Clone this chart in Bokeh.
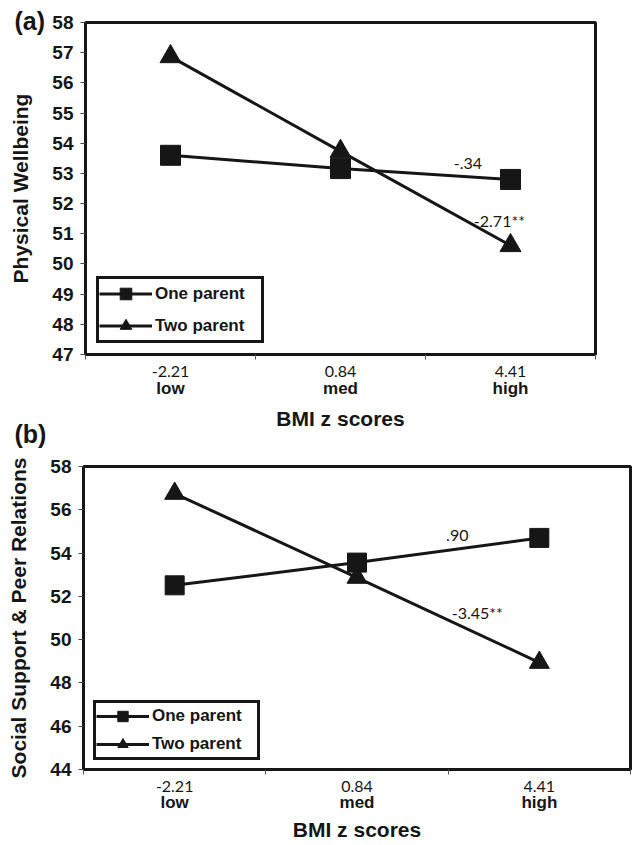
from bokeh.plotting import figure
from bokeh.models import (Range1d, FixedTicker, LinearAxis, Legend, LegendItem, Title,
                          ColumnDataSource)
from bokeh.embed import file_html
from bokeh.resources import INLINE
from bokeh.core.properties import value

# ---------------- data ----------------
categories = ["low", "med", "high"]
bmi_z = ["-2.21", "0.84", "4.41"]
series_names = ["One parent", "Two parent"]
x_label = "BMI z scores"
panel_tags = ["(a)", "(b)"]

a_one = [53.60, 53.16, 52.80]
a_two = [56.87, 53.73, 50.61]
a_ylabel = "Physical Wellbeing"
a_ticks = [47, 48, 49, 50, 51, 52, 53, 54, 55, 56, 57, 58]
a_annot_text = ["-.34", "-2.71**"]
a_annot_x = [2.25, 2.435]
a_annot_y = [53.33, 51.44]

b_one = [52.51, 53.56, 54.70]
b_two = [56.75, 52.87, 48.94]
b_ylabel = "Social Support & Peer Relations"
b_ticks = [44, 46, 48, 50, 52, 54, 56, 58]
b_annot_text = [".90", "-3.45**"]
b_annot_x = [2.05, 2.16]
b_annot_y = [54.80, 51.25]

INK = "#161616"
BOLD_FONT = "Liberation Sans"
NUM_FONT = "Lato"


def make_panel(one, two, ylabel, ticks, ann_t, ann_x, ann_y, *,
               width, height, b_left, b_right, b_top, b_bottom,
               leg_loc, leg_pad, leg_gh, leg_sp, leg_gw, leg_lw, msize,
               xa_standoff, xb_standoff, xb_label_standoff):
    x = [i + 0.5 for i in range(len(categories))]
    p = figure(width=width, height=height, output_backend="svg", toolbar_location=None,
               x_range=Range1d(0, len(categories)), y_range=Range1d(ticks[0], ticks[-1]),
               x_axis_location=None, y_axis_location=None,
               min_border_left=b_left, min_border_right=b_right,
               min_border_top=b_top, min_border_bottom=b_bottom)
    p.xgrid.visible = False
    p.ygrid.visible = False
    p.outline_line_color = INK
    p.outline_line_width = 3
    p.outline_line_alpha = 1
    p.background_fill_color = "white"
    p.border_fill_color = "white"

    # y axis
    ya = LinearAxis(ticker=FixedTicker(ticks=ticks, minor_ticks=[]))
    ya.axis_line_color = INK
    ya.axis_line_width = 3
    ya.major_tick_out = 5
    ya.major_tick_in = 0
    ya.major_tick_line_color = "#444444"
    ya.major_tick_line_width = 1
    ya.minor_tick_line_color = None
    ya.major_label_standoff = 7
    ya.major_label_text_font = BOLD_FONT
    ya.major_label_text_font_style = "bold"
    ya.major_label_text_font_size = "19px"
    ya.major_label_text_color = INK
    ya.axis_label = ylabel
    ya.axis_label_text_font = BOLD_FONT
    ya.axis_label_text_font_style = "bold"
    ya.axis_label_text_font_size = "21px"
    ya.axis_label_text_color = INK
    ya.axis_label_standoff = 17
    p.add_layout(ya, "left")

    # x axis: z values with boundary ticks
    xa = LinearAxis(ticker=FixedTicker(ticks=x, minor_ticks=list(range(len(categories) + 1))))
    xa.major_label_overrides = {xv: z for xv, z in zip(x, bmi_z)}
    xa.axis_line_color = INK
    xa.axis_line_width = 3
    xa.major_tick_line_color = None
    xa.major_tick_out = 0
    xa.major_tick_in = 0
    xa.minor_tick_out = 5
    xa.minor_tick_in = 0
    xa.minor_tick_line_color = "#555555"
    xa.minor_tick_line_width = 1
    xa.major_label_standoff = xa_standoff
    xa.major_label_text_font = NUM_FONT
    xa.major_label_text_font_size = "16px"
    xa.major_label_text_color = INK
    p.add_layout(xa, "below")

    # x axis: category names + title
    xb = LinearAxis(ticker=FixedTicker(ticks=x, minor_ticks=[]))
    xb.major_label_overrides = {xv: c for xv, c in zip(x, categories)}
    xb.axis_line_color = None
    xb.major_tick_line_color = None
    xb.minor_tick_line_color = None
    xb.major_tick_out = 0
    xb.major_tick_in = 0
    xb.major_label_standoff = xb_standoff
    xb.major_label_text_font = BOLD_FONT
    xb.major_label_text_font_style = "bold"
    xb.major_label_text_font_size = "17px"
    xb.major_label_text_color = INK
    xb.axis_label = x_label
    xb.axis_label_text_font = BOLD_FONT
    xb.axis_label_text_font_style = "bold"
    xb.axis_label_text_font_size = "21px"
    xb.axis_label_text_color = INK
    xb.axis_label_standoff = xb_label_standoff
    p.add_layout(xb, "below")

    src = ColumnDataSource(dict(x=x, one=one, two=two))
    l1 = p.line("x", "one", source=src, line_color=INK, line_width=3)
    m1 = p.scatter("x", "one", source=src, marker="square", size=msize,
                   fill_color=INK, line_color=INK)
    l2 = p.line("x", "two", source=src, line_color=INK, line_width=3)
    m2 = p.scatter("x", "two", source=src, marker="triangle", size=msize + 1,
                   fill_color=INK, line_color=INK)

    asrc = ColumnDataSource(dict(x=ann_x, y=ann_y, t=ann_t))
    p.text("x", "y", text="t", source=asrc, text_font=value(NUM_FONT),
           text_font_size="16px", text_align="center", text_baseline="middle",
           text_color=INK)

    legend = Legend(items=[LegendItem(label=series_names[0], renderers=[l1, m1]),
                           LegendItem(label=series_names[1], renderers=[l2, m2])],
                    location=leg_loc, margin=0, padding=leg_pad, spacing=leg_sp,
                    title_standoff=0,
                    glyph_height=leg_gh, glyph_width=leg_gw, label_standoff=3,
                    label_width=leg_lw,
                    label_text_font=BOLD_FONT, label_text_font_style="bold",
                    label_text_font_size="17px", label_text_color=INK,
                    label_height=leg_gh,
                    border_line_color=INK, border_line_width=3, border_line_alpha=1,
                    background_fill_color="white", background_fill_alpha=1)
    p.add_layout(legend, "center")
    return p


def tag_title(text, offset, standoff):
    return Title(text=text, align="left", vertical_align="middle", offset=offset,
                 standoff=standoff, text_font=BOLD_FONT, text_font_style="bold",
                 text_font_size="25px", text_color=INK)


H_A = 450
H_B = 845 - H_A

pa = make_panel(a_one, a_two, a_ylabel, a_ticks, a_annot_text, a_annot_x, a_annot_y,
                width=634, height=H_A, b_left=85, b_right=39, b_top=22, b_bottom=H_A - 354,
                leg_loc=(11, 11), leg_pad=0, leg_gh=29, leg_sp=3, leg_gw=53, leg_lw=106,
                msize=20, xa_standoff=6, xb_standoff=-1, xb_label_standoff=6)
pa.add_layout(tag_title(panel_tags[0], -71, -27), "above")
pa.add_layout(tag_title(panel_tags[1], -71, -28), "below")

pb = make_panel(b_one, b_two, b_ylabel, b_ticks, b_annot_text, b_annot_x, b_annot_y,
                width=634, height=H_B, b_left=83, b_right=4, b_top=466 - H_A, b_bottom=845 - 769,
                leg_loc=(10, 9), leg_pad=0, leg_gh=26, leg_sp=2, leg_gw=53, leg_lw=105,
                msize=19, xa_standoff=6, xb_standoff=-2, xb_label_standoff=3)

open("out.html", "w").write(file_html([pa, pb], INLINE))
